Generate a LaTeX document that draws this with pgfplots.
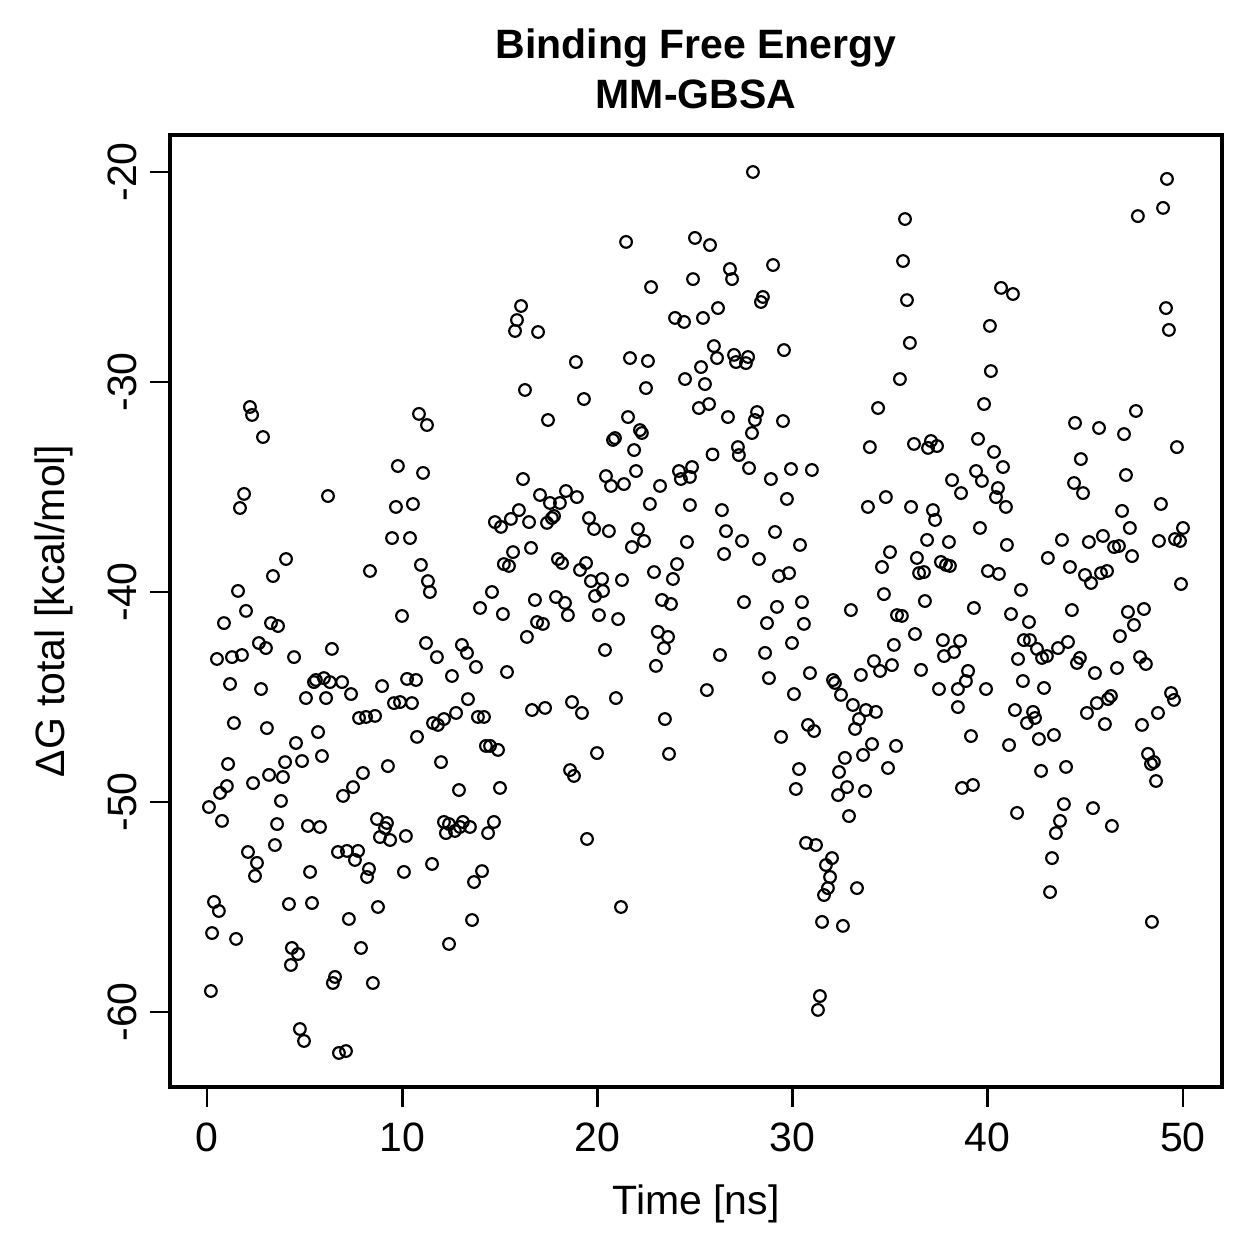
\documentclass[border=0pt]{standalone}
\usepackage{fontspec}
\setmainfont{Liberation Sans}
\usepackage{pgfplots}
\pgfplotsset{compat=1.18}
\begin{document}
\fontsize{12.3}{14.8}\selectfont
\begin{tikzpicture}
\path[use as bounding box] (-51pt,-51.6pt) rectangle (326.7pt,326.1pt);
\begin{axis}[
  scale only axis, width=315.6pt, height=285.6pt,
  at={(0,0)}, anchor=south west,
  xmin=-1.895, xmax=52.0, ymin=-63.571, ymax=-18.238,
  xtick={0,10,20,30,40,50}, ytick={-60,-50,-40,-30,-20},
  tick align=outside, xtick pos=left, ytick pos=left,
  major tick length=6pt,
  axis line style={line width=1pt},
  every tick/.style={black, line width=0.8pt},
  /pgf/number format/assume math mode=true,
  ticklabel style={font=\fontsize{12.3}{14.8}\selectfont},
  xticklabel style={anchor=north, inner sep=0pt},
  xticklabel shift=4.5pt,
  yticklabel style={rotate=90, anchor=base, inner sep=0pt},
  yticklabel shift=3.9pt,
  clip=false,
]
\addplot[only marks, mark=o, mark size=1.75pt, mark options={line width=0.65pt, black}] coordinates {
(2.20,-31.19)(2.31,-31.57)(2.87,-32.62)(10.86,-31.52)(11.27,-32.05)
(21.47,-23.33)(25.00,-23.14)(22.75,-25.48)(24.90,-25.10)(16.09,-26.38)
(15.88,-27.05)(15.78,-27.57)(16.96,-27.62)(23.98,-26.95)(24.44,-27.14)
(18.90,-29.05)(21.67,-28.86)(22.59,-29.00)(25.31,-29.29)(24.49,-29.86)
(16.29,-30.38)(22.49,-30.29)(19.31,-30.81)(25.20,-31.24)(17.47,-31.81)
(21.57,-31.67)(20.80,-32.76)(20.90,-32.67)(22.18,-32.29)(22.28,-32.43)
(21.88,-33.24)(27.97,-20.00)(35.76,-22.24)(35.66,-24.24)(35.86,-26.10)
(36.01,-28.14)(35.50,-29.86)(34.38,-31.24)(33.96,-33.10)(36.22,-32.95)
(37.09,-32.81)(36.94,-33.14)(37.40,-33.05)(25.77,-23.48)(26.79,-24.62)
(26.90,-25.10)(29.00,-24.43)(28.48,-25.95)(28.38,-26.19)(26.18,-26.48)
(25.41,-26.95)(25.97,-28.29)(26.13,-28.86)(27.00,-28.71)(27.10,-29.05)
(27.72,-28.81)(27.61,-29.10)(29.56,-28.48)(25.51,-30.10)(25.72,-31.05)
(26.69,-31.67)(28.18,-31.43)(28.07,-31.81)(29.51,-31.86)(27.92,-32.43)
(27.20,-33.10)(27.25,-33.48)(25.90,-33.45)(49.18,-20.33)(48.98,-21.71)
(47.69,-22.10)(40.68,-25.52)(41.29,-25.81)(49.13,-26.48)(49.28,-27.52)
(40.11,-27.33)(40.16,-29.48)(39.81,-31.05)(47.59,-31.38)(44.47,-31.95)
(45.70,-32.19)(46.98,-32.48)(49.69,-33.10)(39.50,-32.71)(40.32,-33.33)
(44.77,-33.67)(9.78,-34.00)(11.07,-34.33)(1.90,-35.33)(1.69,-36.00)
(6.20,-35.43)(9.68,-35.95)(10.55,-35.81)(9.48,-37.43)(10.40,-37.43)
(4.05,-38.43)(3.38,-39.24)(8.35,-39.00)(10.96,-38.71)(11.32,-39.48)
(11.42,-40.00)(1.59,-39.95)(2.00,-40.90)(0.87,-41.48)(3.28,-41.48)
(3.64,-41.62)(9.99,-41.14)(2.66,-42.43)(3.02,-42.67)(0.51,-43.19)
(1.28,-43.10)(1.79,-43.00)(4.46,-43.10)(6.40,-42.71)(11.22,-42.43)
(11.78,-43.10)(1.18,-44.38)(2.77,-44.62)(5.48,-44.29)(5.58,-44.19)
(5.99,-44.10)(6.30,-44.29)(6.92,-44.29)(5.07,-45.05)(6.10,-45.05)
(7.38,-44.86)(8.97,-44.48)(10.25,-44.14)(10.71,-44.19)(9.58,-45.29)
(9.89,-45.24)(10.50,-45.29)(7.79,-46.00)(8.15,-45.95)(8.61,-45.90)
(1.38,-46.24)(3.07,-46.48)(5.69,-46.67)(4.56,-47.19)(10.76,-46.90)
(11.58,-46.24)(1.08,-48.19)(4.00,-48.10)(4.87,-48.05)(5.89,-47.81)
(3.18,-48.71)(7.99,-48.62)(9.27,-48.29)(16.19,-34.62)(17.06,-35.38)
(18.39,-35.19)(18.95,-35.48)(20.44,-34.48)(20.70,-34.95)(21.36,-34.86)
(21.98,-34.24)(23.21,-34.95)(24.18,-34.24)(24.28,-34.62)(24.74,-34.52)
(24.85,-34.05)(22.69,-35.81)(24.74,-35.86)(17.57,-35.76)(18.08,-35.76)
(15.98,-36.10)(15.57,-36.52)(14.75,-36.67)(15.06,-36.90)(16.50,-36.67)
(17.42,-36.71)(17.67,-36.48)(17.78,-36.38)(19.57,-36.48)(19.83,-37.00)
(20.59,-37.10)(22.08,-37.00)(22.39,-37.57)(21.77,-37.86)(24.59,-37.62)
(15.68,-38.10)(16.60,-37.90)(15.21,-38.67)(15.47,-38.76)(17.98,-38.43)
(18.19,-38.62)(19.42,-38.62)(19.11,-38.95)(19.67,-39.48)(20.24,-39.38)
(20.29,-39.95)(19.88,-40.19)(21.26,-39.43)(22.90,-39.05)(24.08,-38.67)
(23.87,-39.38)(14.60,-40.00)(13.99,-40.76)(15.16,-41.05)(16.80,-40.38)
(17.88,-40.24)(18.34,-40.52)(18.49,-41.10)(20.08,-41.10)(21.06,-41.29)
(23.31,-40.38)(23.77,-40.57)(16.91,-41.43)(17.21,-41.52)(16.39,-42.14)
(23.10,-41.90)(23.62,-42.14)(23.41,-42.67)(20.39,-42.76)(23.00,-43.52)
(13.06,-42.52)(13.32,-42.90)(13.78,-43.57)(12.55,-44.00)(15.37,-43.81)
(13.37,-45.10)(20.95,-45.05)(23.46,-46.05)(18.70,-45.24)(19.21,-45.76)
(16.65,-45.62)(17.32,-45.52)(12.76,-45.76)(11.83,-46.33)(12.14,-46.05)
(13.88,-45.95)(14.19,-45.95)(14.29,-47.33)(14.50,-47.33)(14.91,-47.52)
(19.98,-47.67)(23.67,-47.71)(11.99,-48.10)(18.60,-48.48)(27.77,-34.10)
(28.89,-34.62)(29.92,-34.14)(30.99,-34.19)(29.71,-35.57)(26.38,-36.10)
(26.59,-37.10)(27.41,-37.57)(29.10,-37.14)(30.38,-37.76)(26.49,-38.19)
(28.28,-38.43)(29.30,-39.24)(29.82,-39.10)(27.51,-40.48)(29.20,-40.71)
(30.48,-40.48)(28.69,-41.48)(30.58,-41.52)(29.97,-42.43)(26.28,-43.00)
(28.59,-42.90)(28.79,-44.10)(30.89,-43.86)(25.61,-44.67)(30.07,-44.86)
(29.41,-46.90)(30.79,-46.33)(31.10,-46.62)(30.33,-48.43)(33.86,-35.95)
(34.78,-35.48)(36.07,-35.95)(37.19,-36.10)(37.30,-36.57)(38.17,-34.67)
(38.63,-35.29)(36.89,-37.52)(38.01,-37.62)(34.99,-38.10)(34.58,-38.81)
(36.37,-38.38)(37.60,-38.57)(37.86,-38.71)(38.06,-38.76)(36.48,-39.10)
(36.73,-39.05)(34.68,-40.10)(36.78,-40.43)(32.99,-40.86)(35.35,-41.10)
(35.60,-41.14)(36.27,-42.00)(35.19,-42.52)(37.70,-42.29)(37.76,-43.05)
(38.27,-42.86)(38.58,-42.33)(34.17,-43.29)(34.48,-43.76)(35.09,-43.48)
(33.50,-43.95)(36.58,-43.71)(32.07,-44.19)(32.17,-44.33)(32.48,-44.90)
(33.09,-45.38)(33.76,-45.62)(34.27,-45.71)(33.40,-46.05)(33.20,-46.52)
(37.50,-44.62)(38.47,-44.62)(38.47,-45.48)(34.07,-47.24)(35.30,-47.33)
(33.61,-47.76)(32.68,-47.90)(34.89,-48.38)(32.38,-48.57)(39.40,-34.24)
(39.70,-34.71)(40.78,-34.05)(40.52,-35.05)(40.42,-35.48)(40.93,-35.95)
(44.42,-34.81)(44.88,-35.29)(47.08,-34.43)(48.87,-35.81)(46.88,-36.14)
(47.28,-36.95)(39.60,-36.95)(40.98,-37.76)(43.80,-37.52)(45.18,-37.62)
(45.90,-37.33)(46.47,-37.86)(46.72,-37.81)(47.39,-38.29)(48.77,-37.57)
(49.59,-37.48)(49.85,-37.57)(50.00,-36.95)(43.08,-38.38)(44.21,-38.81)
(44.98,-39.19)(45.29,-39.57)(45.80,-39.10)(46.11,-39.00)(49.90,-39.62)
(40.01,-39.00)(40.57,-39.14)(41.70,-39.90)(39.29,-40.76)(41.19,-41.05)
(42.11,-41.43)(44.31,-40.86)(47.18,-40.95)(48.00,-40.81)(47.49,-41.57)
(46.77,-42.10)(41.85,-42.29)(42.16,-42.29)(42.52,-42.71)(43.60,-42.67)
(44.11,-42.38)(41.55,-43.19)(42.78,-43.14)(43.03,-43.05)(44.72,-43.14)
(44.57,-43.38)(45.49,-43.86)(46.62,-43.62)(47.80,-43.10)(48.10,-43.43)
(38.99,-43.76)(38.88,-44.24)(39.91,-44.62)(41.80,-44.24)(42.88,-44.57)
(41.39,-45.62)(42.32,-45.71)(42.42,-46.00)(42.01,-46.24)(45.08,-45.76)
(45.59,-45.29)(46.16,-45.10)(46.31,-44.95)(46.00,-46.29)(47.90,-46.33)
(48.72,-45.76)(49.39,-44.81)(49.54,-45.14)(39.14,-46.86)(41.09,-47.29)
(42.62,-47.00)(43.39,-46.81)(48.21,-47.71)(48.51,-48.10)(48.36,-48.19)
(44.01,-48.33)(42.73,-48.52)(3.89,-48.81)(2.36,-49.10)(1.02,-49.24)
(0.67,-49.57)(0.10,-50.24)(0.77,-50.90)(3.79,-49.95)(7.48,-49.29)
(6.97,-49.71)(3.59,-51.05)(5.17,-51.14)(5.79,-51.19)(3.48,-52.05)
(2.10,-52.38)(2.56,-52.90)(2.46,-53.52)(8.71,-50.81)(9.22,-51.00)
(9.12,-51.24)(8.86,-51.67)(9.38,-51.81)(10.19,-51.62)(6.71,-52.38)
(7.17,-52.33)(7.74,-52.33)(7.58,-52.76)(8.30,-53.19)(8.20,-53.57)
(10.09,-53.33)(11.53,-52.95)(5.28,-53.33)(0.36,-54.76)(0.61,-55.19)
(4.20,-54.86)(5.38,-54.81)(8.76,-55.00)(7.27,-55.57)(0.26,-56.24)
(1.49,-56.52)(4.35,-56.95)(4.66,-57.24)(4.30,-57.76)(7.89,-56.95)
(6.56,-58.33)(6.45,-58.62)(8.50,-58.62)(0.20,-59.00)(4.76,-60.81)
(4.97,-61.38)(6.76,-61.95)(7.12,-61.86)(18.80,-48.76)(12.91,-49.43)
(15.01,-49.33)(12.14,-50.95)(12.40,-51.05)(13.11,-50.95)(13.47,-51.19)
(12.24,-51.48)(12.70,-51.38)(12.96,-51.19)(14.70,-50.95)(14.40,-51.48)
(14.09,-53.29)(13.68,-53.81)(19.47,-51.76)(21.21,-55.00)(13.58,-55.62)
(12.40,-56.76)(30.17,-49.38)(32.33,-49.67)(32.79,-49.29)(33.71,-49.48)
(32.89,-50.67)(38.68,-49.33)(39.24,-49.19)(30.69,-51.95)(31.20,-52.05)
(32.02,-52.67)(31.71,-53.00)(31.92,-53.57)(31.81,-54.10)(31.61,-54.43)
(33.30,-54.10)(31.51,-55.71)(32.58,-55.90)(31.40,-59.24)(31.30,-59.90)
(48.62,-49.00)(41.50,-50.52)(43.90,-50.10)(45.39,-50.29)(46.36,-51.14)
(43.70,-50.90)(43.49,-51.48)(43.29,-52.67)(43.19,-54.29)(48.41,-55.71)
};
\end{axis}
\node[anchor=base, font=\bfseries] at (157.8pt,308.4pt) {Binding Free Energy};
\node[anchor=base, font=\bfseries] at (157.8pt,293.4pt) {MM-GBSA};
\node[anchor=base] at (157.8pt,-38.1pt) {Time [ns]};
\node[anchor=base, rotate=90] at (-31.5pt,142.8pt) {ΔG total [kcal/mol]};
\end{tikzpicture}
\end{document}
